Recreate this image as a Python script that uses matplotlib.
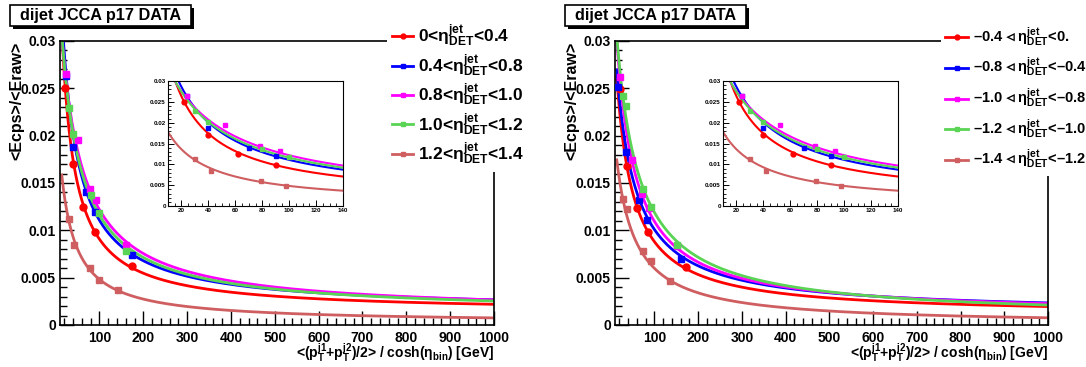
import numpy as np
import matplotlib
matplotlib.use("Agg")
import matplotlib.pyplot as plt
from matplotlib.lines import Line2D
from matplotlib.patches import Rectangle
from matplotlib.ticker import MultipleLocator

plt.rcParams['font.family'] = ['Liberation Sans', 'DejaVu Sans']
plt.rcParams['font.weight'] = 'bold'
plt.rcParams['mathtext.fontset'] = 'custom'
plt.rcParams['mathtext.rm'] = 'Liberation Sans:bold'
plt.rcParams['mathtext.it'] = 'Liberation Sans:bold'
plt.rcParams['mathtext.bf'] = 'Liberation Sans:bold'
plt.rcParams['mathtext.sf'] = 'Liberation Sans:bold'
plt.rcParams['mathtext.default'] = 'rm'
plt.rcParams['mathtext.fallback'] = 'stix'

# ---------------- data ----------------
colors = ['#ff0000', '#0000ff', '#ff00ff', '#59d454', '#cf5e61']
markers = ['o', 's', 's', 's', 's']

left_labels = [r"0<$\eta^{jet}_{DET}$<0.4", r"0.4<$\eta^{jet}_{DET}$<0.8",
               r"0.8<$\eta^{jet}_{DET}$<1.0", r"1.0<$\eta^{jet}_{DET}$<1.2",
               r"1.2<$\eta^{jet}_{DET}$<1.4"]
right_labels = [r"–0.4${\vartriangleleft}\eta^{jet}_{DET}$<0.",
                r"–0.8${\vartriangleleft}\eta^{jet}_{DET}$<–0.4",
                r"–1.0${\vartriangleleft}\eta^{jet}_{DET}$<–0.8",
                r"–1.2${\vartriangleleft}\eta^{jet}_{DET}$<–1.0",
                r"–1.4${\vartriangleleft}\eta^{jet}_{DET}$<–1.2"]

# left panel (positive eta) measured points
left_red_x = [22, 40, 62, 90, 175]
left_red_y = [0.0250, 0.0170, 0.0125, 0.0098, 0.0062]
left_blue_x = [24, 40, 70, 90, 175]
left_blue_y = [0.0263, 0.0188, 0.0140, 0.0119, 0.0074]
left_mag_x = [24, 52, 78, 93, 160]
left_mag_y = [0.0265, 0.0195, 0.0144, 0.0132, 0.0085]
left_green_x = [30, 40, 80, 100, 160]
left_green_y = [0.0229, 0.0202, 0.0137, 0.0118, 0.0078]
left_salmon_x = [30, 42, 79, 98, 142]
left_salmon_y = [0.0112, 0.0085, 0.0060, 0.0048, 0.0037]

# right panel (negative eta) measured points
right_red_x = [21, 37, 61, 86, 172]
right_red_y = [0.0249, 0.0168, 0.0124, 0.0098, 0.0061]
right_blue_x = [17.5, 35, 66, 84, 162]
right_blue_y = [0.0251, 0.0183, 0.0132, 0.0111, 0.0070]
right_mag_x = [21, 48, 71, 88, 152]
right_mag_y = [0.0262, 0.0174, 0.0138, 0.0124, 0.0083]
right_green_x = [28, 35, 75, 92, 152]
right_green_y = [0.0242, 0.0231, 0.0144, 0.0125, 0.0084]
right_salmon_x = [28, 37, 75, 92, 136]
right_salmon_y = [0.0133, 0.0123, 0.0078, 0.0068, 0.0047]

# fit parameters: f(x) = a + b / (x + d)
left_fit_a = [0.0013, 0.0015, 0.0012, 0.0012, 0.0002]
left_fit_b = [0.9006, 1.183, 1.507, 1.381, 0.563]
left_fit_d = [16.0, 23.7, 37.3, 32.7, 22.0]
right_fit_a = [0.0010, 0.0012, 0.0010, 0.0006, 0.0]
right_fit_b = [0.973, 1.169, 1.300, 1.562, 0.785]
right_fit_d = [24.6, 31.4, 30.6, 38.2, 31.0]

left_x = [left_red_x, left_blue_x, left_mag_x, left_green_x, left_salmon_x]
left_y = [left_red_y, left_blue_y, left_mag_y, left_green_y, left_salmon_y]
right_x = [right_red_x, right_blue_x, right_mag_x, right_green_x, right_salmon_x]
right_y = [right_red_y, right_blue_y, right_mag_y, right_green_y, right_salmon_y]

title_text = "dijet JCCA p17 DATA"
ylabel_text = "<Ecps>/<Eraw>"
xlabel_text = r"<(p$_{T}^{j1}$+p$_{T}^{j2}$)/2> / cosh($\eta_{bin}$) [GeV]"

# ---------------- figure ----------------
W, H = 1086, 367
fig = plt.figure(figsize=(W / 100, H / 100), dpi=100)


def fx(px):
    return px / W


def fy(py):
    return 1 - py / H


def fit(x, a, b, d):
    return a + b / (x + d)


def style_main(ax):
    ax.set_xlim(10, 1000)
    ax.set_ylim(0, 0.03)
    ax.xaxis.set_major_locator(MultipleLocator(100))
    ax.xaxis.set_minor_locator(MultipleLocator(20))
    ax.yaxis.set_minor_locator(MultipleLocator(0.001))
    ax.tick_params(which='both', direction='in', top=False, right=False)
    ax.tick_params(which='major', length=10, width=1, labelsize=10, pad=4)
    ax.tick_params(axis='y', which='major', pad=3)
    ax.tick_params(which='minor', length=5, width=1)
    ax.set_yticks([0, 0.005, 0.01, 0.015, 0.02, 0.025, 0.03])
    ax.set_yticklabels(['0', '0.005', '0.01', '0.015', '0.02', '0.025', '0.03'])
    for lab in ax.get_xticklabels() + ax.get_yticklabels():
        lab.set_fontweight('bold')
    for s in ax.spines.values():
        s.set_linewidth(1.2)


def style_inset(ax):
    ax.set_xlim(10, 140)
    ax.set_ylim(0, 0.03)
    ax.xaxis.set_minor_locator(MultipleLocator(5))
    ax.yaxis.set_minor_locator(MultipleLocator(0.001))
    ax.set_yticks([0, 0.005, 0.01, 0.015, 0.02, 0.025, 0.03])
    ax.set_yticklabels(['0', '0.005', '0.01', '0.015', '0.02', '0.025', '0.03'])
    ax.set_xticks([20, 40, 60, 80, 100, 120, 140])
    ax.tick_params(which='both', direction='in', top=False, right=False)
    ax.tick_params(which='major', length=4, width=0.7, labelsize=4.5, pad=1.5)
    ax.tick_params(which='minor', length=2, width=0.6)
    for s in ax.spines.values():
        s.set_linewidth(0.8)


def draw(ax, xs, ys, fa, fb, fd, xmin, xmax, lw, ms):
    xx = np.linspace(xmin, xmax, 800)
    for i in range(5):
        ax.plot(xx, fit(xx, fa[i], fb[i], fd[i]), color=colors[i], lw=lw, zorder=2 + i * 0.1)
    for i in range(5):
        ax.plot(xs[i], ys[i], ls='none', marker=markers[i], color=colors[i],
                ms=ms, mec=colors[i], zorder=3 + i * 0.1)


axL = fig.add_axes([fx(60), fy(325), (494 - 60) / W, (325 - 41) / H])
axR = fig.add_axes([fx(615), fy(325), (1048 - 615) / W, (325 - 41) / H])

for ax, xs, ys, fa, fb, fd in [(axL, left_x, left_y, left_fit_a, left_fit_b, left_fit_d),
                               (axR, right_x, right_y, right_fit_a, right_fit_b, right_fit_d)]:
    draw(ax, xs, ys, fa, fb, fd, 14, 1000, 2.0, 5)
    style_main(ax)

insL = fig.add_axes([fx(168), fy(206), 175 / W, 125 / H])
insR = fig.add_axes([fx(723), fy(206), 175 / W, 125 / H])
for ax in (insL, insR):
    draw(ax, left_x, left_y, left_fit_a, left_fit_b, left_fit_d, 10, 140, 1.5, 3.5)
    style_inset(ax)

# legends
legend_specs = [(axL, left_labels, 387, 18, 12.5, 1.21, 0.29, 0.18),
                (axR, right_labels, 941, 21, 10.5, 1.58, 0.34, 0.51)]
for ax, labels, x0, y0, fs, hl, htp, ls in legend_specs:
    handles = [Line2D([0], [0], color=colors[i], lw=2, marker=markers[i], ms=3.5)
               for i in range(5)]
    leg = ax.legend(handles, labels, loc='upper left',
                    bbox_to_anchor=(fx(x0), fy(y0)), bbox_transform=fig.transFigure,
                    frameon=True, fancybox=False, framealpha=1, edgecolor='none',
                    facecolor='white', borderpad=0.3, handlelength=hl,
                    handletextpad=htp, labelspacing=ls, borderaxespad=0,
                    prop={'size': fs, 'weight': 'bold'})
    leg.set_zorder(10)

# title boxes and axis titles
for bx, axx in [(10, 60), (565, 615)]:
    bw, bh = 181, 21
    fig.patches.append(Rectangle((fx(bx + 3), fy(5 + bh + 3)), bw / W, bh / H,
                                 transform=fig.transFigure, fc='black', ec='none'))
    fig.patches.append(Rectangle((fx(bx), fy(5 + bh)), bw / W, bh / H,
                                 transform=fig.transFigure, fc='white', ec='black', lw=1.2))
    fig.text(fx(bx + bw / 2), fy(5 + bh / 2), title_text, ha='center', va='center',
             fontsize=11.7, fontweight='bold')
    fig.text(fx(axx - 43), fy(42), ylabel_text, rotation=90, ha='center', va='top',
             fontsize=11.5, fontweight='bold')

fig.text(fx(494), fy(359), xlabel_text, ha='right', va='baseline', fontsize=10, fontweight='bold')
fig.text(fx(1048), fy(359), xlabel_text, ha='right', va='baseline', fontsize=10, fontweight='bold')

fig.savefig("out.png", dpi=100)
